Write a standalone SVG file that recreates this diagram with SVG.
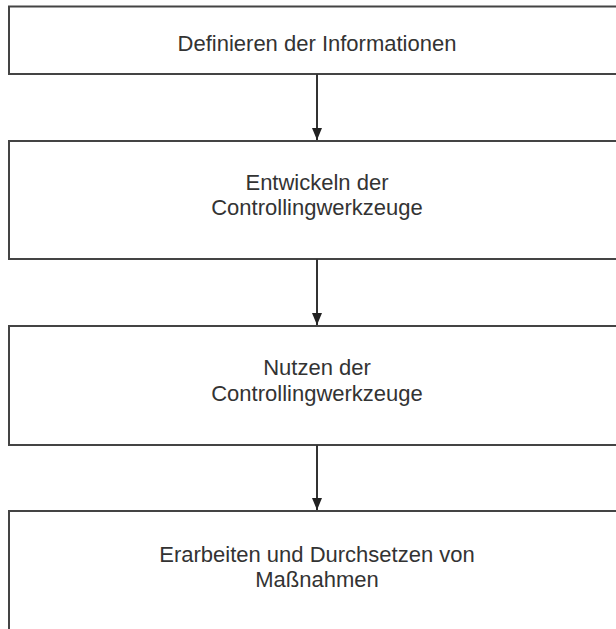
<svg xmlns="http://www.w3.org/2000/svg" width="616" height="629" viewBox="0 0 616 629">
<style>
.box{fill:#fff;stroke:#444;stroke-width:2}
.t{font-family:"Liberation Sans",Arial,sans-serif;font-size:22px;fill:#333;text-anchor:middle}
.c{stroke:#333;stroke-width:2;fill:none}
</style>
<defs>
<marker id="ah" markerWidth="12" markerHeight="10" refX="12" refY="5" orient="auto" markerUnits="userSpaceOnUse" viewBox="0 0 12 10">
<path d="M0,0 L12,5 L0,10 Z" fill="#222"/>
</marker>
</defs>
<rect width="616" height="629" fill="#fff"/>
<g id="n1"><rect class="box" x="9" y="6.5" width="620" height="67.5"/><text class="t" x="317" y="51">Definieren der Informationen</text></g>
<g id="n2"><rect class="box" x="9" y="141" width="620" height="118"/><text class="t" x="317" y="190">Entwickeln der</text><text class="t" x="317" y="215">Controllingwerkzeuge</text></g>
<g id="n3"><rect class="box" x="9" y="326" width="620" height="119"/><text class="t" x="317" y="375">Nutzen der</text><text class="t" x="317" y="401">Controllingwerkzeuge</text></g>
<g id="n4"><rect class="box" x="9" y="511" width="620" height="140"/><text class="t" x="317" y="562">Erarbeiten und Durchsetzen von</text><text class="t" x="317" y="587">Maßnahmen</text></g>
<g id="connectors">
<line class="c" x1="317" y1="74" x2="317" y2="140" marker-end="url(#ah)"/>
<line class="c" x1="317" y1="259" x2="317" y2="325" marker-end="url(#ah)"/>
<line class="c" x1="317" y1="445" x2="317" y2="510" marker-end="url(#ah)"/>
</g>
</svg>
